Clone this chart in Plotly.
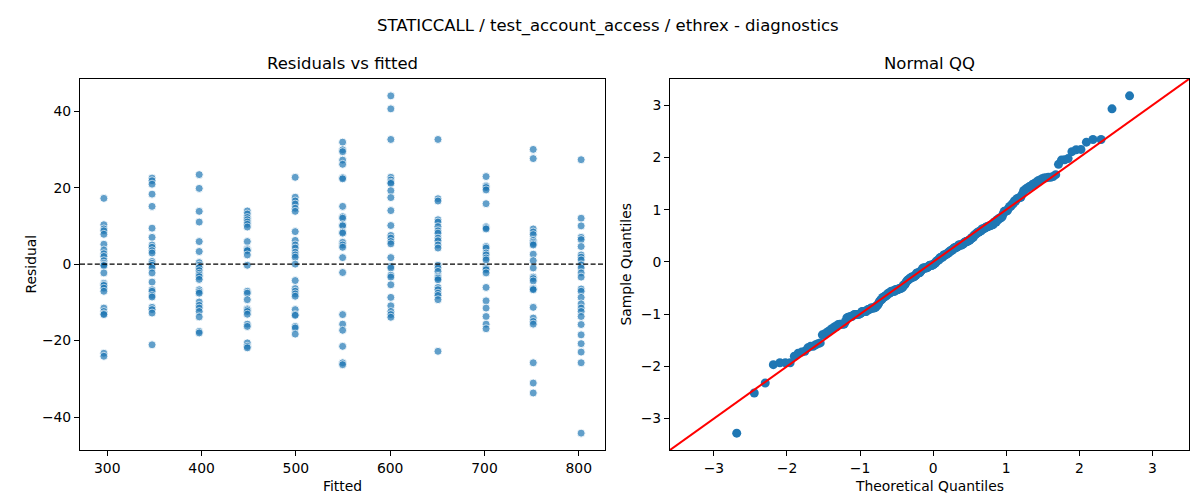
"""Residual diagnostics: residuals vs fitted + normal QQ of standardised residuals."""
import numpy as np
import plotly.graph_objects as go
from statistics import NormalDist

TITLE = 'STATICCALL / test_account_access / ethrex - diagnostics'

# ── Data ──────────────────────────────────────────────────────────────────────
fitted_levels = [296.4, 347.5, 397.5, 448.5, 499.3, 549.6,
                 600.7, 650.7, 701.7, 751.7, 802.5]

res_296 = [17.2, 10.3, 9.2, 8.7, 7.8, 5.2, 3.7, 2.7, 2.0, 0.9, 0.2, -0.2, -0.4,
           -2.3, -5.0, -5.4, -5.6, -6.3, -7.1, -11.5, -12.4, -13.0, -13.2,
           -23.3, -24.1]
res_347 = [22.5, 21.8, 20.9, 18.3, 15.1, 9.4, 7.0, 5.0, 4.4, 3.5, 2.9, 0.7, 0.2,
           -0.3, -1.0, -2.3, -4.7, -6.7, -7.1, -8.2, -8.6, -11.3, -11.9, -12.8,
           -21.1]
res_397 = [23.4, 19.8, 13.8, 11.0, 5.9, 3.3, 0.4, -0.3, -0.8, -1.0, -1.7, -2.4,
           -2.9, -3.3, -4.0, -6.7, -7.2, -7.6, -9.9, -10.8, -11.5, -12.4, -13.8,
           -17.6, -18.0]
res_448 = [13.9, 13.1, 12.2, 11.6, 11.0, 10.4, 9.7, 5.9, 4.0, 3.7, 3.5, 2.4,
           -0.3, -7.1, -7.6, -9.3, -11.7, -12.0, -12.4, -13.1, -15.7, -16.3,
           -20.6, -21.5, -21.9]
res_499 = [22.7, 17.5, 16.5, 15.7, 14.6, 13.8, 8.5, 6.2, 5.0, 4.2, 3.1, 2.4, 1.8,
           0.0, -4.3, -6.4, -7.1, -7.8, -8.4, -11.9, -13.2, -13.4, -16.3, -16.7,
           -18.3]
res_550 = [31.9, 29.9, 29.4, 27.2, 26.1, 22.6, 22.3, 15.1, 12.4, 12.0, 10.3, 10.0,
           8.4, 8.1, 5.7, 5.0, 4.4, 1.7, -2.2, -13.2, -15.7, -17.3, -21.5, -25.8,
           -26.3]
res_601 = [44.0, 40.6, 32.6, 22.7, 22.0, 21.4, 21.1, 19.2, 17.4, 14.0, 10.1, 7.5,
           6.8, 5.9, 5.3, 1.7, -0.6, -1.0, -2.9, -3.4, -5.4, -8.7, -10.9, -12.4,
           -13.2, -13.9]
res_651 = [32.6, 17.1, 16.5, 11.6, 11.0, 9.8, 8.7, 8.1, 6.8, 6.1, 5.0, 4.2, -0.3,
           -1.0, -1.9, -3.2, -3.5, -3.7, -4.1, -6.1, -6.7, -7.6, -8.2, -9.3, -22.8]
res_702 = [22.9, 20.5, 20.3, 20.0, 19.4, 15.8, 9.8, 9.5, 9.2, 4.6, 4.2, 2.9, 2.4,
           1.6, 1.1, -0.9, -1.2, -1.5, -2.3, -6.1, -9.6, -11.5, -13.7, -15.7, -16.9]
res_752 = [30.0, 27.6, 9.2, 8.4, 7.7, 6.2, 5.7, 5.3, 5.0, 2.6, 0.9, -1.0, -3.4,
           -3.8, -4.4, -6.3, -6.5, -6.7, -11.3, -14.1, -15.0, -15.7, -25.8, -31.1,
           -33.7]
res_803 = [27.3, 12.0, 10.0, 7.0, 6.4, 4.6, 2.4, 1.8, 1.1, -0.2, -1.0, -2.3, -3.4,
           -6.5, -7.1, -8.7, -10.4, -11.5, -12.4, -13.7, -15.8, -18.5, -20.8, -23.0,
           -25.8, -44.2]

groups = [res_296, res_347, res_397, res_448, res_499, res_550,
          res_601, res_651, res_702, res_752, res_803]

fitted = np.concatenate([[f] * len(g) for f, g in zip(fitted_levels, groups)])
resid = np.concatenate([np.asarray(g, dtype=float) for g in groups])

# QQ of standardised residuals (plotting positions i/(n+1))
n = len(resid)
sample_q = np.sort((resid - resid.mean()) / resid.std())
theo_q = np.array([NormalDist().inv_cdf(i / (n + 1)) for i in range(1, n + 1)])


def _padded(lo, hi, frac=0.05):
    pad = (hi - lo) * frac
    return [lo - pad, hi + pad]


x1_range = _padded(fitted.min(), fitted.max())
y1_range = _padded(resid.min(), resid.max())
qx = _padded(theo_q.min(), theo_q.max())
qy = _padded(sample_q.min(), sample_q.max())
q_lim = [min(qx[0], qy[0]), max(qx[1], qy[1])]

# ── Layout (pixel geometry of the reference, 1200x500) ───────────────────────
W, H = 1200, 500
LEFT_DOM  = [72 / W, 597 / W]
RIGHT_DOM = [662 / W, 1181 / W]
Y_DOM     = [1 - 442 / H, 1 - 71 / H]

FONT      = 'DejaVu Sans'
TICK_SIZE = 13.9
C0        = '#1f77b4'

fig = go.Figure()

fig.add_trace(go.Scatter(
    x=fitted, y=resid, mode='markers', xaxis='x', yaxis='y',
    marker=dict(color=C0, size=8, opacity=0.7,
                line=dict(color='white', width=0.9)),
    showlegend=False, hoverinfo='x+y',
))
fig.add_trace(go.Scatter(
    x=x1_range, y=[0, 0], mode='lines', xaxis='x', yaxis='y',
    line=dict(color='black', width=1.3, dash='5px,2.4px'),
    showlegend=False, hoverinfo='skip',
))

fig.add_trace(go.Scatter(
    x=theo_q, y=sample_q, mode='markers', xaxis='x2', yaxis='y2',
    marker=dict(color=C0, size=9, line=dict(width=0)),
    showlegend=False, hoverinfo='x+y',
))
fig.add_trace(go.Scatter(
    x=q_lim, y=q_lim, mode='lines', xaxis='x2', yaxis='y2',
    line=dict(color='red', width=2),
    showlegend=False, hoverinfo='skip',
))

axis_common = dict(
    showgrid=False, zeroline=False, showline=True, linecolor='black',
    linewidth=1, mirror=True, ticks='outside', ticklen=5, tickwidth=1,
    tickcolor='black', tickfont=dict(family=FONT, size=TICK_SIZE, color='black'),
)

fig.update_layout(
    width=W, height=H,
    margin=dict(l=0, r=0, t=0, b=0),
    paper_bgcolor='white', plot_bgcolor='white',
    font=dict(family=FONT, color='black'),
    xaxis=dict(domain=LEFT_DOM, range=x1_range, tickvals=[300, 400, 500, 600, 700, 800],
               anchor='y', **axis_common),
    yaxis=dict(domain=Y_DOM, range=y1_range, tickvals=[-40, -20, 0, 20, 40],
               anchor='x', **axis_common),
    xaxis2=dict(domain=RIGHT_DOM, range=q_lim, tickvals=[-3, -2, -1, 0, 1, 2, 3],
                anchor='y2', **axis_common),
    yaxis2=dict(domain=Y_DOM, range=q_lim, tickvals=[-3, -2, -1, 0, 1, 2, 3],
                anchor='x2', **axis_common),
)

left_mid  = sum(LEFT_DOM) / 2
right_mid = sum(RIGHT_DOM) / 2


def _text(txt, x, y, size, angle=0):
    fig.add_annotation(
        text=txt, x=x, y=y, xref='paper', yref='paper',
        xanchor='center', yanchor='middle', showarrow=False, textangle=angle,
        font=dict(family=FONT, size=size, color='black'),
    )


_text(TITLE, 0.5, 1 - 18 / H, 16.5)
_text('Residuals vs fitted', left_mid, 1 - 56 / H, 16.5)
_text('Normal QQ', right_mid, 1 - 56 / H, 16.5)
_text('Fitted', left_mid, 1 - 478 / H, TICK_SIZE)
_text('Theoretical Quantiles', right_mid, 1 - 478 / H, TICK_SIZE)
_text('Residual', 22 / W, sum(Y_DOM) / 2, TICK_SIZE, angle=-90)
_text('Sample Quantiles', 617 / W, sum(Y_DOM) / 2, TICK_SIZE, angle=-90)

fig.write_html('out.html')
